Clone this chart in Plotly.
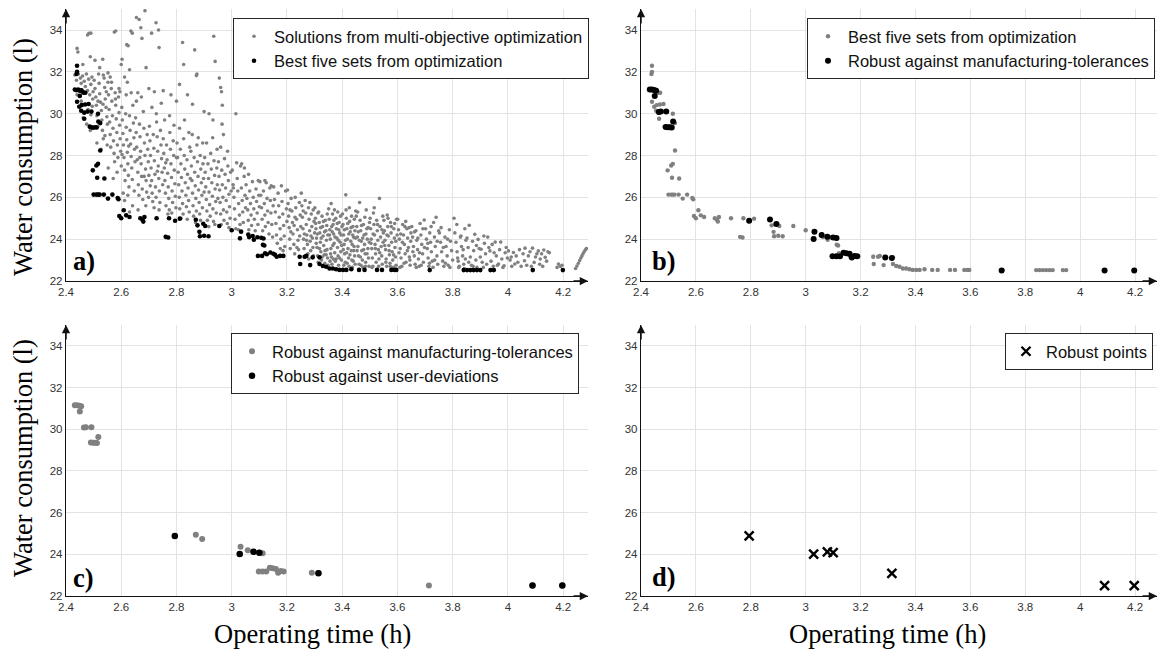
import plotly.graph_objects as go

# ---------------- data ----------------
x_ticks = [2.4, 2.6, 2.8, 3.0, 3.2, 3.4, 3.6, 3.8, 4.0, 4.2]
x_tick_labels = ["2.4", "2.6", "2.8", "3", "3.2", "3.4", "3.6", "3.8", "4", "4.2"]
y_ticks = [22, 24, 26, 28, 30, 32, 34]
y_tick_labels = ["22", "24", "26", "28", "30", "32", "34"]

# Solutions from multi-objective optimization (grey cloud, panel a)
sol_sparse_top = [(2.44,33.12),(2.443,32.95),(2.478,33.76),(2.483,33.84),(2.488,32.72),(2.461,32.35),(2.505,32.55),(2.533,32.6),
    (2.575,33.9),(2.58,33.95),(2.603,32.6),(2.6,32.35),(2.62,33.3),(2.625,33.25),(2.635,33.95),(2.64,33.85),(2.655,34.6),
    (2.665,34.5),(2.671,34.11),(2.675,33.6),(2.686,34.92),(2.69,32.2),(2.71,33.85),(2.726,34.35),(2.735,34.0),(2.737,33.16),
    (2.822,33.4),(2.826,32.35),(2.866,33.05),(2.874,31.9),(2.872,31.82),(2.935,33.7),(2.94,32.5),(2.955,31.7),(2.96,31.25),
    (2.963,31.05),(2.966,30.4),(3.015,30.0),(2.63,32.1),(2.612,31.75),(2.552,31.95),(2.522,32.2),(2.565,31.5),(2.592,31.2),
    (2.622,31.5),(2.66,31.0),(2.7,31.2),(2.72,31.05),(2.752,31.1),(2.78,30.9),(2.811,31.4),(2.8,30.6),(2.84,30.9),(2.858,30.45),
    (2.9,30.1),(2.918,30.0),(2.932,29.7),(2.965,29.5),(2.49,33.85),(2.535,31.85)]

sol_band_245_260 = [(2.432,31.85),(2.438,31.6),(2.445,31.9),(2.452,31.7),(2.455,31.45),(2.46,31.8),(2.466,31.55),(2.47,31.3),
    (2.474,31.9),(2.478,31.1),(2.482,31.65),(2.486,30.9),(2.49,31.4),(2.494,31.75),(2.497,30.7),(2.455,30.6),(2.47,30.45),
    (2.48,30.2),(2.49,29.95),(2.495,30.35),(2.462,29.8),(2.475,29.5),(2.488,29.2),(2.498,31.05),(2.44,30.9),(2.448,30.35),
    (2.502,31.6),(2.505,31.2),(2.508,30.8),(2.51,30.4),(2.512,29.9),(2.515,29.4),(2.518,31.9),(2.52,31.45),(2.522,30.95),
    (2.525,30.55),(2.528,30.15),(2.53,29.7),(2.532,29.2),(2.535,28.8),(2.538,31.7),(2.54,31.25),(2.542,30.7),(2.545,30.3),
    (2.548,29.85),(2.55,29.5),(2.512,28.6),(2.527,28.3),(2.541,28.95),(2.546,31.05),(2.534,30.45),(2.516,30.6),(2.524,29.55),
    (2.549,28.5),(2.552,31.5),(2.554,30.9),(2.556,30.2),(2.558,29.6),(2.56,29.0),(2.562,28.4),(2.564,31.2),(2.566,30.6),
    (2.568,29.9),(2.57,29.3),(2.572,28.7),(2.574,28.1),(2.576,27.7),(2.578,31.0),(2.58,30.4),(2.582,29.75),(2.584,29.1),
    (2.586,28.5),(2.588,27.9),(2.59,30.8),(2.592,30.05),(2.594,29.45),(2.596,28.8),(2.598,28.2),(2.6,27.5),(2.553,27.4),
    (2.571,26.9),(2.585,27.2),(2.56,31.75),(2.579,30.7),(2.595,31.05)]

sol_band_260_280 = [(2.602,30.3),(2.604,29.7),(2.606,29.05),(2.608,28.5),(2.61,27.9),(2.612,27.3),(2.614,26.8),(2.616,30.0),
    (2.618,29.35),(2.62,28.75),(2.622,28.15),(2.624,27.6),(2.626,27.05),(2.628,26.5),(2.63,29.9),(2.632,29.2),(2.634,28.55),
    (2.636,27.95),(2.638,27.4),(2.64,26.85),(2.642,30.4),(2.644,29.55),(2.646,28.85),(2.648,28.3),(2.65,27.7),(2.607,26.2),
    (2.612,25.85),(2.624,26.1),(2.63,25.3),(2.641,25.6),(2.618,30.9),(2.647,26.3),(2.636,31.0),(2.603,28.05),(2.627,28.45),
    (2.652,29.8),(2.654,29.1),(2.656,28.4),(2.658,27.8),(2.66,27.2),(2.662,26.6),(2.664,26.1),(2.666,29.5),(2.668,28.9),
    (2.67,28.2),(2.672,27.6),(2.674,27.0),(2.676,26.4),(2.678,25.9),(2.68,30.1),(2.682,29.3),(2.684,28.6),(2.686,28.0),
    (2.688,27.35),(2.69,26.8),(2.692,26.25),(2.694,29.0),(2.696,28.3),(2.698,27.7),(2.7,27.05),(2.655,30.6),(2.673,30.8),
    (2.689,25.6),(2.661,25.4),(2.699,26.0),(2.667,27.9),(2.683,27.0),
    (2.702,29.4),(2.704,28.7),(2.706,28.0),(2.708,27.4),(2.71,26.8),(2.712,26.2),(2.714,25.8),(2.716,29.0),(2.718,28.35),
    (2.72,27.75),(2.722,27.1),(2.724,26.5),(2.726,26.0),(2.728,29.6),(2.73,28.9),(2.732,28.2),(2.734,27.5),(2.736,26.9),
    (2.738,26.3),(2.74,25.75),(2.742,29.2),(2.744,28.5),(2.746,27.85),(2.748,27.2),(2.75,26.6),(2.711,30.3),(2.727,30.0),
    (2.745,30.5),(2.719,25.5),(2.737,25.4),(2.705,26.55),(2.731,27.25),
    (2.752,28.8),(2.754,28.1),(2.756,27.4),(2.758,26.8),(2.76,26.2),(2.762,25.6),(2.764,28.5),(2.766,27.8),(2.768,27.15),
    (2.77,26.5),(2.772,25.95),(2.774,25.4),(2.776,29.1),(2.778,28.3),(2.78,27.6),(2.782,26.95),(2.784,26.3),(2.786,25.75),
    (2.788,28.7),(2.79,28.0),(2.792,27.3),(2.794,26.65),(2.796,26.05),(2.798,25.5),(2.8,27.9),(2.757,29.7),(2.775,29.9),
    (2.791,29.45),(2.769,25.2),(2.783,25.25),(2.761,27.65)]

sol_band_280_300 = [(2.802,28.6),(2.804,27.9),(2.806,27.2),(2.808,26.6),(2.81,26.0),(2.812,25.45),(2.814,28.3),(2.816,27.6),
    (2.818,26.95),(2.82,26.3),(2.822,25.7),(2.824,25.2),(2.826,28.8),(2.828,28.0),(2.83,27.35),(2.832,26.7),(2.834,26.1),
    (2.836,25.55),(2.838,27.8),(2.84,27.1),(2.842,26.45),(2.844,25.85),(2.846,25.3),(2.848,28.4),(2.85,26.9),(2.811,29.3),
    (2.829,29.7),(2.845,29.1),(2.817,25.0),(2.839,24.95),
    (2.852,28.2),(2.854,27.5),(2.856,26.8),(2.858,26.2),(2.86,25.6),(2.862,25.1),(2.864,27.9),(2.866,27.2),(2.868,26.55),
    (2.87,25.95),(2.872,25.35),(2.874,28.5),(2.876,27.7),(2.878,27.0),(2.88,26.35),(2.882,25.75),(2.884,25.2),(2.886,28.0),
    (2.888,27.35),(2.89,26.7),(2.892,26.1),(2.894,25.5),(2.896,27.6),(2.898,26.9),(2.9,26.25),(2.857,29.0),(2.879,28.85),
    (2.895,28.6),(2.869,24.8),(2.887,24.9),
    (2.902,27.9),(2.904,27.2),(2.906,26.5),(2.908,25.9),(2.91,25.35),(2.912,24.9),(2.914,27.6),(2.916,26.9),(2.918,26.25),
    (2.92,25.65),(2.922,25.1),(2.924,28.1),(2.926,27.35),(2.928,26.7),(2.93,26.05),(2.932,25.45),(2.934,24.85),(2.936,27.75),
    (2.938,27.05),(2.94,26.4),(2.942,25.8),(2.944,25.25),(2.946,27.4),(2.948,26.6),(2.95,25.95),(2.909,28.6),(2.931,28.85),
    (2.947,28.3),(2.917,24.6),(2.939,24.7),
    (2.952,27.7),(2.954,27.0),(2.956,26.35),(2.958,25.75),(2.96,25.2),(2.962,24.7),(2.964,27.3),(2.966,26.6),(2.968,26.0),
    (2.97,25.4),(2.972,24.9),(2.974,27.85),(2.976,27.1),(2.978,26.45),(2.98,25.85),(2.982,25.3),(2.984,24.75),(2.986,27.5),
    (2.988,26.8),(2.99,26.15),(2.992,25.55),(2.994,25.0),(2.996,27.2),(2.998,26.3),(2.96,28.4),(2.985,28.2),(2.99,24.55),
    (2.97,29.0)]

sol_band_300_325 = [(3.002,27.3),(3.005,26.6),(3.008,26.0),(3.01,25.45),(3.012,24.95),(3.015,24.5),(3.018,27.65),(3.02,26.9),
    (3.022,26.3),(3.025,25.7),(3.028,25.15),(3.03,24.7),(3.032,27.5),(3.035,26.45),(3.038,25.85),(3.04,25.3),(3.042,24.8),
    (3.045,27.0),(3.048,26.1),(3.05,25.5),(3.036,27.6),(3.046,27.4),(3.006,26.45),(3.024,24.45),
    (3.052,26.6),(3.055,25.95),(3.058,25.4),(3.06,24.9),(3.062,24.45),(3.065,26.3),(3.068,25.7),(3.07,25.15),(3.072,24.65),
    (3.075,26.75),(3.078,26.0),(3.08,25.45),(3.082,24.95),(3.085,24.4),(3.088,26.4),(3.09,25.8),(3.092,25.25),(3.095,24.7),
    (3.098,26.1),(3.1,25.55),(3.061,27.1),(3.096,26.8),
    (3.102,26.75),(3.105,26.1),(3.108,25.5),(3.11,24.95),(3.112,24.4),(3.115,26.3),(3.118,25.7),(3.12,25.15),(3.122,24.6),
    (3.125,26.7),(3.128,25.95),(3.13,25.35),(3.132,24.8),(3.135,24.25),(3.138,26.45),(3.14,25.85),(3.142,25.25),(3.145,24.7),
    (3.148,24.1),(3.15,25.6),(3.12,26.8),(3.143,26.55),
    (3.152,26.5),(3.155,25.9),(3.158,25.3),(3.16,24.75),(3.162,24.2),(3.165,23.8),(3.168,26.2),(3.17,25.6),(3.172,25.05),
    (3.175,24.5),(3.178,24.0),(3.18,26.55),(3.182,25.8),(3.185,25.2),(3.188,24.65),(3.19,24.15),(3.192,23.65),(3.195,26.3),
    (3.198,25.45),(3.2,24.85),(3.176,23.55),(3.186,23.45),
    (3.202,26.35),(3.204,25.7),(3.206,25.1),(3.208,24.55),(3.21,24.0),(3.212,23.55),(3.215,25.95),(3.218,25.35),(3.22,24.8),
    (3.222,24.25),(3.225,23.75),(3.228,23.3),(3.23,26.0),(3.232,25.5),(3.235,24.95),(3.238,24.45),(3.24,23.95),(3.242,23.5),
    (3.245,25.75),(3.248,25.15),(3.25,24.6),(3.214,24.35),(3.226,24.65),(3.236,23.6),(3.246,24.15),(3.229,25.05),(3.211,25.4)]

sol_band_325_350 = [(3.252,26.2),(3.254,25.6),(3.256,25.05),(3.258,24.5),(3.26,24.0),(3.262,23.55),(3.264,23.15),(3.266,25.85),
    (3.268,25.25),(3.27,24.7),(3.272,24.2),(3.274,23.75),(3.276,23.3),(3.278,25.5),(3.28,24.95),(3.282,24.4),(3.284,23.9),
    (3.286,23.45),(3.288,25.2),(3.29,24.6),(3.292,24.05),(3.294,23.6),(3.296,23.2),(3.298,24.85),(3.3,24.3),(3.259,25.35),
    (3.271,23.95),(3.283,25.75),(3.295,25.4),(3.263,24.25),(3.287,24.15),(3.279,23.05),
    (3.301,25.5),(3.303,25.0),(3.305,24.5),(3.307,24.05),(3.309,23.6),(3.311,23.2),(3.313,22.9),(3.315,25.3),(3.317,24.8),
    (3.319,24.3),(3.321,23.85),(3.323,23.4),(3.325,23.0),(3.327,25.1),(3.329,24.6),(3.331,24.15),(3.333,23.7),(3.335,23.25),
    (3.337,22.85),(3.339,24.9),(3.341,24.4),(3.343,23.95),(3.345,23.5),(3.347,23.1),(3.349,22.75),(3.304,24.75),(3.31,24.25),
    (3.318,23.55),(3.324,24.05),(3.332,24.85),(3.338,23.45),(3.344,24.65),(3.348,24.2),(3.312,25.25),(3.328,23.15),
    (3.336,24.35),(3.342,23.25),(3.306,23.8),(3.322,24.55),(3.346,25.2),
    (3.351,25.45),(3.353,24.95),(3.355,24.45),(3.357,24.0),(3.359,23.55),(3.361,23.15),(3.363,22.8),(3.365,25.2),(3.367,24.7),
    (3.369,24.25),(3.371,23.8),(3.373,23.35),(3.375,22.95),(3.377,25.0),(3.379,24.5),(3.381,24.05),(3.383,23.6),(3.385,23.2),
    (3.387,22.75),(3.389,24.8),(3.391,24.3),(3.393,23.85),(3.395,23.4),(3.397,23.0),(3.399,24.6),(3.354,24.2),(3.358,23.3),
    (3.362,24.6),(3.366,23.7),(3.37,24.9),(3.374,24.1),(3.378,23.05),(3.382,24.75),(3.386,23.95),(3.39,23.1),(3.394,25.1),
    (3.398,23.7),(3.356,22.95),(3.368,23.05),(3.384,25.3),(3.372,25.4),(3.396,24.2),(3.36,25.7),(3.388,24.45),(3.364,24.35),
    (3.401,25.2),(3.403,24.7),(3.405,24.2),(3.407,23.75),(3.409,23.3),(3.411,22.9),(3.413,26.12),(3.415,25.0),(3.417,24.5),
    (3.419,24.0),(3.421,23.55),(3.423,23.1),(3.425,22.7),(3.427,24.85),(3.429,24.35),(3.431,23.9),(3.433,23.45),(3.435,23.0),
    (3.437,22.65),(3.439,24.6),(3.441,24.1),(3.443,23.65),(3.445,23.2),(3.447,22.8),(3.449,25.35),(3.404,23.5),(3.408,24.45),
    (3.412,23.95),(3.416,23.35),(3.42,24.75),(3.424,24.25),(3.428,23.25),(3.432,24.55),(3.436,23.75),(3.44,22.95),
    (3.444,24.95),(3.448,24.05),(3.406,22.75),(3.418,22.85),(3.426,25.5),(3.434,25.1),(3.442,23.45),(3.446,24.4),
    (3.414,25.4),(3.438,24.2),
    (3.451,25.1),(3.453,24.6),(3.455,24.1),(3.457,23.65),(3.459,23.2),(3.461,22.8),(3.463,25.75),(3.465,24.9),(3.467,24.4),
    (3.469,23.9),(3.471,23.45),(3.473,23.0),(3.475,22.65),(3.477,24.7),(3.479,24.2),(3.481,23.75),(3.483,23.3),(3.485,22.9),
    (3.487,25.4),(3.489,24.5),(3.491,24.0),(3.493,23.55),(3.495,23.1),(3.497,22.7),(3.499,24.8),(3.454,23.45),(3.458,24.35),
    (3.462,23.95),(3.466,23.15),(3.47,24.65),(3.474,24.05),(3.478,23.5),(3.482,25.05),(3.486,24.25),(3.49,23.3),
    (3.494,24.55),(3.498,23.85),(3.456,25.3),(3.468,22.75),(3.484,22.7)]

sol_band_350_375 = [(3.501,25.0),(3.503,24.5),(3.505,24.0),(3.507,23.55),(3.509,23.1),(3.511,22.7),(3.513,25.25),(3.515,24.7),
    (3.517,24.2),(3.519,23.75),(3.521,23.3),(3.523,22.9),(3.525,24.9),(3.527,24.4),(3.529,23.95),(3.531,23.5),(3.533,23.05),
    (3.535,25.95),(3.537,24.6),(3.539,24.1),(3.541,23.65),(3.543,23.2),(3.545,22.8),(3.547,25.1),(3.549,24.3),(3.504,23.8),
    (3.512,24.25),(3.52,23.55),(3.528,24.7),(3.536,23.35),(3.544,24.45),(3.508,22.65),(3.532,22.7),(3.548,23.85),(3.516,25.5),
    (3.551,24.9),(3.553,24.4),(3.555,23.95),(3.557,23.5),(3.559,23.05),(3.561,22.7),(3.563,25.15),(3.565,24.6),(3.567,24.15),
    (3.569,23.7),(3.571,23.25),(3.573,22.85),(3.575,24.8),(3.577,24.3),(3.579,23.85),(3.581,23.4),(3.583,23.0),(3.585,22.65),
    (3.587,24.5),(3.589,24.05),(3.591,23.6),(3.593,23.15),(3.595,22.75),(3.597,24.95),(3.599,24.2),(3.554,23.7),(3.562,24.2),
    (3.57,23.45),(3.578,24.6),(3.586,23.25),(3.594,23.9),(3.558,22.9),(3.574,22.7),(3.59,24.75),(3.566,25.0),
    (3.601,24.95),(3.604,24.45),(3.607,24.0),(3.61,23.55),(3.613,23.1),(3.616,22.7),(3.619,24.7),(3.622,24.2),(3.625,23.75),
    (3.628,23.3),(3.631,22.9),(3.634,24.5),(3.637,24.05),(3.64,23.6),(3.643,23.15),(3.646,22.75),(3.649,24.3),(3.606,23.35),
    (3.612,24.25),(3.618,23.85),(3.624,22.85),(3.63,24.85),(3.636,23.45),(3.642,24.55),(3.648,23.9),(3.609,22.65),
    (3.627,24.6),(3.645,23.0),
    (3.652,24.6),(3.655,24.1),(3.658,23.65),(3.661,23.2),(3.664,22.8),(3.667,24.4),(3.67,23.95),(3.673,23.5),(3.676,23.05),
    (3.679,22.7),(3.682,24.75),(3.685,24.2),(3.688,23.75),(3.691,23.3),(3.694,22.9),(3.697,24.92),(3.656,23.4),(3.662,24.35),
    (3.668,22.65),(3.674,24.05),(3.68,23.35),(3.686,22.75),(3.692,24.5),(3.698,23.6),
    (3.702,24.5),(3.705,24.0),(3.708,23.55),(3.711,23.1),(3.714,22.7),(3.717,24.3),(3.72,23.85),(3.723,23.4),(3.726,22.95),
    (3.729,22.65),(3.731,24.8),(3.734,24.1),(3.737,23.65),(3.74,25.05),(3.743,23.2),(3.746,22.8),(3.749,24.4),(3.71,23.8),
    (3.722,24.6),(3.735,23.0),(3.744,23.9),(3.716,22.85)]

sol_band_375_430 = [(3.752,24.3),(3.756,23.85),(3.76,23.4),(3.764,22.95),(3.768,22.7),(3.772,24.1),(3.776,23.65),(3.78,23.2),
    (3.784,22.75),(3.788,24.45),(3.792,23.9),(3.796,23.45),(3.8,23.0),(3.758,24.55),(3.766,23.6),(3.774,22.85),(3.782,24.0),
    (3.79,22.65),(3.805,25.0),
    (3.808,24.3),(3.812,23.85),(3.816,23.4),(3.82,22.95),(3.824,22.7),(3.828,24.1),(3.832,23.65),(3.836,23.2),(3.84,22.8),
    (3.844,24.5),(3.848,23.95),(3.815,24.7),(3.822,22.65),(3.83,24.15),(3.838,23.5),(3.846,23.05),(3.818,23.1),(3.842,22.6),
    (3.852,24.05),(3.856,23.6),(3.86,24.66),(3.864,23.15),(3.868,22.75),(3.872,23.9),(3.876,23.45),(3.88,24.23),(3.884,23.0),
    (3.888,22.65),(3.892,23.99),(3.896,23.55),(3.9,23.15),(3.858,22.9),(3.874,22.7),(3.886,23.7),
    (3.903,23.52),(3.907,22.9),(3.911,22.65),(3.915,23.8),(3.919,23.3),(3.923,22.8),(3.927,24.1),(3.931,23.6),(3.935,23.44),
    (3.939,22.95),(3.943,23.75),(3.947,22.7),(3.95,23.35),(3.913,24.15),
    (3.954,23.86),(3.958,23.2),(3.962,22.75),(3.966,22.81),(3.97,23.5),(3.974,23.86),(3.978,23.05),(3.982,22.65),(3.986,22.73),
    (3.99,23.35),(3.994,23.6),(3.998,23.1),
    (4.002,23.44),(4.008,23.0),(4.014,22.7),(4.02,23.36),(4.025,22.81),(4.03,23.2),(4.036,22.9),(4.042,23.5),(4.048,22.7),
    (4.012,23.15),
    (4.055,23.3),(4.06,22.97),(4.062,23.57),(4.068,22.75),(4.074,23.2),(4.08,23.4),(4.089,23.57),(4.095,22.89),(4.1,23.15),
    (4.085,22.7),
    (4.105,23.3),(4.11,23.44),(4.115,22.8),(4.117,23.05),(4.122,23.3),(4.13,23.48),(4.135,23.13),(4.14,22.95),(4.145,23.4),
    (4.15,23.35),(4.126,22.7),
    (4.178,22.65),(4.183,22.81),(4.19,22.7),(4.196,22.75),
    (4.245,22.6),(4.25,22.72),(4.255,22.85),(4.26,22.98),(4.264,23.1),(4.268,23.2),(4.272,23.3),(4.276,23.4),(4.28,23.48),
    (4.284,23.55)]

# Best five sets from optimization (black in a, grey in b)
best_five = [(2.44,32.29),(2.44,32.0),(2.438,31.9),
    (2.432,31.15),(2.438,31.12),(2.444,31.15),(2.45,31.1),(2.456,31.12),(2.46,31.05),(2.464,31.0),(2.47,31.0),(2.45,30.85),
    (2.44,30.57),(2.448,30.33),(2.457,30.41),(2.469,30.44),(2.482,30.46),
    (2.455,30.14),(2.466,30.05),(2.478,30.1),(2.492,30.1),(2.466,29.76),(2.516,30.0),
    (2.486,29.38),(2.492,29.35),(2.498,29.33),(2.505,29.35),(2.511,29.34),(2.517,29.62),(2.524,29.55),
    (2.524,28.24),(2.516,27.6),(2.51,27.52),(2.497,27.29),(2.513,26.94),(2.539,26.9),
    (2.5,26.13),(2.51,26.13),(2.516,26.13),(2.522,26.13),(2.537,26.13),(2.552,25.94),(2.568,26.13),(2.587,25.97),(2.59,25.91),
    (2.593,25.11),(2.6,25.0),(2.609,25.38),(2.618,25.14),(2.63,25.06),
    (2.669,25.0),(2.677,24.93),(2.68,24.84),(2.684,25.06),
    (2.728,25.0),(2.773,25.0),(2.795,24.88),(2.812,24.98),(2.761,24.11),(2.77,24.08),
    (2.87,24.93),(2.876,24.66),(2.883,24.35),(2.885,24.14),(2.897,24.74),(2.904,24.63),(2.9,24.16),(2.916,24.14),
    (2.955,24.63),(3.0,24.43),
    (3.03,24.04),(3.034,24.36),(3.06,24.22),(3.063,24.1),(3.076,24.15),(3.08,23.97),(3.093,24.09),(3.107,24.07),
    (3.115,24.03),(3.113,23.73),(3.118,23.70),
    (3.095,23.2),(3.11,23.2),(3.121,23.33),(3.127,23.28),(3.14,23.36),(3.151,23.3),(3.157,23.25),(3.163,23.16),(3.175,23.2),
    (3.187,23.2),
    (3.246,23.16),(3.264,23.16),(3.27,23.2),(3.248,22.81),(3.284,22.76),(3.293,23.13),(3.318,23.13),
    (3.318,22.81),(3.33,22.72),(3.342,22.68),(3.354,22.6),(3.366,22.6),(3.378,22.56),(3.39,22.53),(3.403,22.53),(3.415,22.53),
    (3.433,22.56),(3.461,22.53),(3.481,22.53),(3.526,22.53),(3.544,22.53),(3.578,22.53),(3.59,22.53),(3.596,22.53),
    (3.717,22.52),
    (3.84,22.52),(3.852,22.52),(3.864,22.52),(3.876,22.52),(3.888,22.52),(3.9,22.52),(3.937,22.52),(3.949,22.52),
    (4.09,22.52),(4.199,22.52)]

# Robust against manufacturing-tolerances (black in b, grey in c)
robust_mfg_x = [2.432, 2.440, 2.448, 2.455, 2.450, 2.465, 2.472, 2.492, 2.490, 2.498, 2.505, 2.512, 2.517, 2.794, 2.870,
                2.893, 3.032, 3.029, 3.058, 3.079, 3.100, 3.112, 3.098, 3.112, 3.125, 3.138, 3.148, 3.160, 3.168, 3.178,
                3.188, 3.290, 3.314, 3.714, 4.089, 4.197]
robust_mfg_y = [31.15, 31.15, 31.13, 31.10, 30.85, 30.08, 30.10, 30.10, 29.36, 29.35, 29.35, 29.34, 29.63, 24.88, 24.94,
                24.73, 24.36, 24.01, 24.20, 24.12, 24.08, 24.05, 23.18, 23.18, 23.18, 23.35, 23.33, 23.30, 23.12, 23.20,
                23.18, 23.12, 23.10, 22.50, 22.50, 22.50]

# Robust against user-deviations (black in c) = robust points (d)
robust_user_x = [2.794, 3.029, 3.079, 3.100, 3.314, 4.089, 4.197]
robust_user_y = [24.88, 24.01, 24.12, 24.08, 23.09, 22.50, 22.50]

solutions = (sol_sparse_top + sol_band_245_260 + sol_band_260_280 + sol_band_280_300 +
             sol_band_300_325 + sol_band_325_350 + sol_band_350_375 + sol_band_375_430)
sol_x = [p[0] for p in solutions]
sol_y = [p[1] for p in solutions]
best_x = [p[0] for p in best_five]
best_y = [p[1] for p in best_five]

# ---------------- layout geometry ----------------
W, H = 1158, 652
def fx(px):
    return px / W
def fy(py):
    return 1 - py / H

GREY = "#808080"
BLACK = "#000000"
SANS = "Liberation Sans, Arial, sans-serif"
SERIF = "Liberation Serif, Times New Roman, serif"

fig = go.Figure()

# panel a
fig.add_trace(go.Scatter(x=sol_x, y=sol_y, mode="markers", name="Solutions from multi-objective optimization",
                         marker=dict(color=GREY, size=3.6, line=dict(width=0)), xaxis="x", yaxis="y", legend="legend"))
fig.add_trace(go.Scatter(x=best_x, y=best_y, mode="markers", name="Best five sets from optimization",
                         marker=dict(color=BLACK, size=4.6, line=dict(width=0)), xaxis="x", yaxis="y", legend="legend"))
# panel b
fig.add_trace(go.Scatter(x=best_x, y=best_y, mode="markers", name="Best five sets from optimization",
                         marker=dict(color=GREY, size=4.4, line=dict(width=0)), xaxis="x2", yaxis="y2", legend="legend2"))
fig.add_trace(go.Scatter(x=robust_mfg_x, y=robust_mfg_y, mode="markers", name="Robust against manufacturing-tolerances",
                         marker=dict(color=BLACK, size=6, line=dict(width=0)), xaxis="x2", yaxis="y2", legend="legend2"))
# panel c
fig.add_trace(go.Scatter(x=robust_mfg_x, y=robust_mfg_y, mode="markers", name="Robust against manufacturing-tolerances",
                         marker=dict(color=GREY, size=6, line=dict(width=0)), xaxis="x3", yaxis="y3", legend="legend3"))
fig.add_trace(go.Scatter(x=robust_user_x, y=robust_user_y, mode="markers", name="Robust against user-deviations",
                         marker=dict(color=BLACK, size=6.5, line=dict(width=0)), xaxis="x3", yaxis="y3", legend="legend3"))
# panel d
fig.add_trace(go.Scatter(x=robust_user_x, y=robust_user_y, mode="markers", name="Robust points",
                         marker=dict(color=BLACK, symbol="x-thin-open", size=9, line=dict(width=2.4, color=BLACK)),
                         xaxis="x4", yaxis="y4", legend="legend4"))

left_dom = [fx(66), fx(588)]
right_dom = [fx(641), fx(1157)]
top_dom = [fy(281), fy(9.1)]
bot_dom = [fy(596), fy(325)]

def xax(dom, anchor, rng):
    return dict(domain=dom, anchor=anchor, range=rng, tickmode="array", tickvals=x_ticks, ticktext=x_tick_labels,
                showgrid=True, gridcolor="#e3e3e3", gridwidth=1, showline=True, linecolor="#111111", linewidth=1.4,
                ticks="", zeroline=False, automargin=False, tickfont=dict(family=SANS, size=11.5, color="#333333"))

def yax(dom, anchor):
    return dict(domain=dom, anchor=anchor, range=[22, 35], tickmode="array", tickvals=y_ticks, ticktext=y_tick_labels,
                showgrid=True, gridcolor="#e3e3e3", gridwidth=1, showline=True, linecolor="#111111", linewidth=1.4,
                ticks="", zeroline=False, automargin=False, tickfont=dict(family=SANS, size=11.5, color="#333333"))

def leg(xr, yt):
    return dict(x=xr, y=yt, xanchor="right", yanchor="top", bgcolor="white", bordercolor="#262626", borderwidth=1,
                font=dict(family=SANS, size=16.5, color="#111111"), tracegroupgap=0, itemsizing="trace")

annotations = []
for i, (xa, ya) in enumerate([("x", "y"), ("x2", "y2"), ("x3", "y3"), ("x4", "y4")]):
    annotations.append(dict(xref=xa + " domain", yref=ya + " domain", x=1.0, y=0.0, ax=-16, ay=0,
                            axref="pixel", ayref="pixel", showarrow=True, arrowhead=2, arrowsize=1.1,
                            arrowwidth=1.5, arrowcolor="#111111", text=""))
    annotations.append(dict(xref=xa + " domain", yref=ya + " domain", x=0.0, y=1.0, ax=0, ay=16,
                            axref="pixel", ayref="pixel", showarrow=True, arrowhead=2, arrowsize=1.1,
                            arrowwidth=1.5, arrowcolor="#111111", text=""))

# axis titles
for yc in (157, 458):
    annotations.append(dict(xref="paper", yref="paper", x=fx(23), y=fy(yc), text="Water consumption (l)",
                            textangle=-90, showarrow=False, xanchor="center", yanchor="middle",
                            font=dict(family=SERIF, size=26.5, color="#000000")))
for xc in (312, 887):
    annotations.append(dict(xref="paper", yref="paper", x=fx(xc), y=fy(634), text="Operating time (h)",
                            showarrow=False, xanchor="center", yanchor="middle",
                            font=dict(family=SERIF, size=26.5, color="#000000")))
# panel labels
for lab, px, py in (("a)", 71, 261), ("b)", 650, 261), ("c)", 71, 578), ("d)", 650, 577)):
    annotations.append(dict(xref="paper", yref="paper", x=fx(px), y=fy(py), text="<b>" + lab + "</b>",
                            showarrow=False, xanchor="left", yanchor="middle",
                            font=dict(family=SERIF, size=26.5, color="#000000")))

fig.update_layout(
    width=W, height=H, margin=dict(l=0, r=0, t=0, b=0, autoexpand=False),
    paper_bgcolor="white", plot_bgcolor="white", showlegend=True,
    xaxis=xax(left_dom, "y", [2.4, 4.29]), yaxis=yax(top_dom, "x"),
    xaxis2=xax(right_dom, "y2", [2.4, 4.28]), yaxis2=yax(top_dom, "x2"),
    xaxis3=xax(left_dom, "y3", [2.4, 4.29]), yaxis3=yax(bot_dom, "x3"),
    xaxis4=xax(right_dom, "y4", [2.4, 4.28]), yaxis4=yax(bot_dom, "x4"),
    legend=leg(fx(589), fy(18)), legend2=leg(fx(1155), fy(18)),
    legend3=leg(fx(579), fy(333)), legend4=leg(fx(1153), fy(333)),
    annotations=annotations,
)

fig.write_html("out.html", config={"displayModeBar": False},
               post_script="document.body.style.margin='0px';document.body.style.padding='0px';"
                           "document.body.style.overflow='hidden';")
